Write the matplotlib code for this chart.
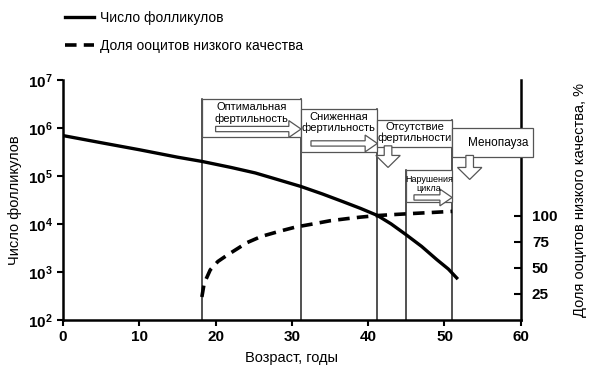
import matplotlib
matplotlib.use("Agg")
import matplotlib.pyplot as plt
import matplotlib.transforms as mtransforms
from matplotlib.patches import Rectangle, FancyArrow
from matplotlib.ticker import NullLocator

plt.rcParams['font.family'] = ['Liberation Sans', 'DejaVu Sans']
plt.rcParams['mathtext.fontset'] = 'custom'
plt.rcParams['mathtext.rm'] = 'Liberation Sans'
plt.rcParams['mathtext.bf'] = 'Liberation Sans:bold'

# follicle count vs age
follicle_age = [0, 5, 10, 15, 18.2, 22, 25.2, 28, 31.2, 34, 36.7, 39, 41.2, 43, 45, 47, 49, 50.5, 51.6]
follicle_count = [6.9e5, 4.9e5, 3.5e5, 2.45e5, 2.0e5, 1.5e5, 1.15e5, 8.5e4, 6.0e4, 4.2e4, 2.9e4, 2.1e4,
                  1.5e4, 1.0e4, 5.9e3, 3.4e3, 1.8e3, 1.15e3, 7.5e2]

# share of low-quality oocytes, %
oocyte_age = [18.2, 18.5, 19.3, 20.3, 21.5, 24.1, 26, 28.4, 30.5, 32.8, 35, 37.2, 39, 41.2, 43.5, 45.9, 48.5, 51]
oocyte_share = [22, 35, 48, 56, 62, 74, 80, 85, 89, 92, 95, 97, 98.5, 100, 101, 102, 103, 104]

stage_bounds = [18.2, 31.2, 41.2, 45, 51]
stage_tops = [0.921, 0.921, 0.879, 0.625, 0.833]

fig = plt.figure(figsize=(6, 3.8), dpi=100)
ax = fig.add_axes([0.105, 0.158, 0.763, 0.632])

ax.set_yscale('log')
ax.set_xlim(0, 60)
ax.set_ylim(1e2, 1e7)
ax.yaxis.set_minor_locator(NullLocator())
ax.set_yticks([10 ** k for k in range(2, 8)])
ax.set_yticklabels([r'$\mathbf{10^{%d}}$' % k for k in range(2, 8)])
ax.set_xticks(range(0, 61, 10))
for lab in ax.get_xticklabels():
    lab.set_fontweight('bold')
ax.tick_params(axis='both', labelsize=11, width=1.5, length=4, direction='out')
ax.spines['top'].set_visible(False)
ax.spines['right'].set_visible(False)
ax.spines['left'].set_linewidth(1.8)
ax.spines['bottom'].set_linewidth(1.8)
ax.set_xlabel('Возраст, годы', fontsize=10.5, labelpad=5)
ax.set_ylabel('Число фолликулов', fontsize=10.5, labelpad=4)

for xb, top in zip(stage_bounds, stage_tops):
    ax.axvline(xb, ymin=0, ymax=top, color='#222222', lw=1.1, zorder=1)

l1, = ax.plot(follicle_age, follicle_count, color='black', lw=2.4, zorder=3)

ax2 = ax.twinx()
ax2.set_ylim(0, 230)
ax2.set_yticks([25, 50, 75, 100])
for lab in ax2.get_yticklabels():
    lab.set_fontweight('bold')
ax2.tick_params(axis='y', labelsize=11, width=1.5, length=5, direction='in', pad=8)
ax2.spines['top'].set_visible(False)
ax2.spines['left'].set_visible(False)
ax2.spines['bottom'].set_visible(False)
ax2.spines['right'].set_linewidth(1.8)
ax2.set_ylabel('Доля ооцитов низкого качества, %', fontsize=10.5, labelpad=11)
l2, = ax2.plot(oocyte_age, oocyte_share, color='black', lw=2.6, ls=(0, (3.2, 2)), zorder=3)

# stage callouts: x in years, y in axes fraction
tr = mtransforms.blended_transform_factory(ax2.transData, ax2.transAxes)
edge = '#555555'


def box(x0, x1, y0, y1):
    ax2.add_patch(Rectangle((x0, y0), x1 - x0, y1 - y0, transform=tr, facecolor='white',
                            edgecolor=edge, lw=0.9, clip_on=False, zorder=5))


def harrow(x0, x1, y):
    ax2.add_patch(FancyArrow(x0, y, x1 - x0, 0, width=0.022, head_width=0.07, head_length=1.6,
                             length_includes_head=True, transform=tr, facecolor='white',
                             edgecolor=edge, lw=0.9, clip_on=False, zorder=6))


def varrow(x, y0, y1):
    ax2.add_patch(FancyArrow(x, y0, 0, y1 - y0, width=1.0, head_width=3.2, head_length=0.05,
                             length_includes_head=True, transform=tr, facecolor='white',
                             edgecolor=edge, lw=0.9, clip_on=False, zorder=6))


box(18.2, 31.2, 0.76, 0.921)
harrow(20.0, 31.2, 0.795)
ax2.text(24.7, 0.862, 'Оптимальная\nфертильность', transform=tr, ha='center', va='center',
         fontsize=8, linespacing=1.1, zorder=7)

box(31.2, 41.2, 0.70, 0.879)
harrow(32.5, 41.2, 0.735)
ax2.text(36.1, 0.822, 'Сниженная\nфертильность', transform=tr, ha='center', va='center',
         fontsize=8, linespacing=1.1, zorder=7)

box(41.2, 51, 0.72, 0.833)
varrow(42.6, 0.725, 0.635)
ax2.text(46.1, 0.78, 'Отсутствие\nфертильности', transform=tr, ha='center', va='center',
         fontsize=8, linespacing=1.1, zorder=7)

box(51, 61.6, 0.68, 0.80)
varrow(53.3, 0.685, 0.585)
ax2.text(57.0, 0.737, 'Менопауза', transform=tr, ha='center', va='center', fontsize=8.5, zorder=7)

box(45, 51, 0.49, 0.625)
harrow(46.0, 51, 0.51)
ax2.text(48.0, 0.566, 'Нарушения\nцикла', transform=tr, ha='center', va='center',
         fontsize=6.5, linespacing=1.1, zorder=7)

fig.legend([l1, l2], ['Число фолликулов', 'Доля ооцитов низкого качества'],
           loc='upper left', bbox_to_anchor=(58 / 600, 1 - 4 / 380), frameon=False,
           fontsize=10, handlelength=2.1, handletextpad=0.4, labelspacing=1.0, borderpad=0)

fig.savefig('out.png', dpi=100)
